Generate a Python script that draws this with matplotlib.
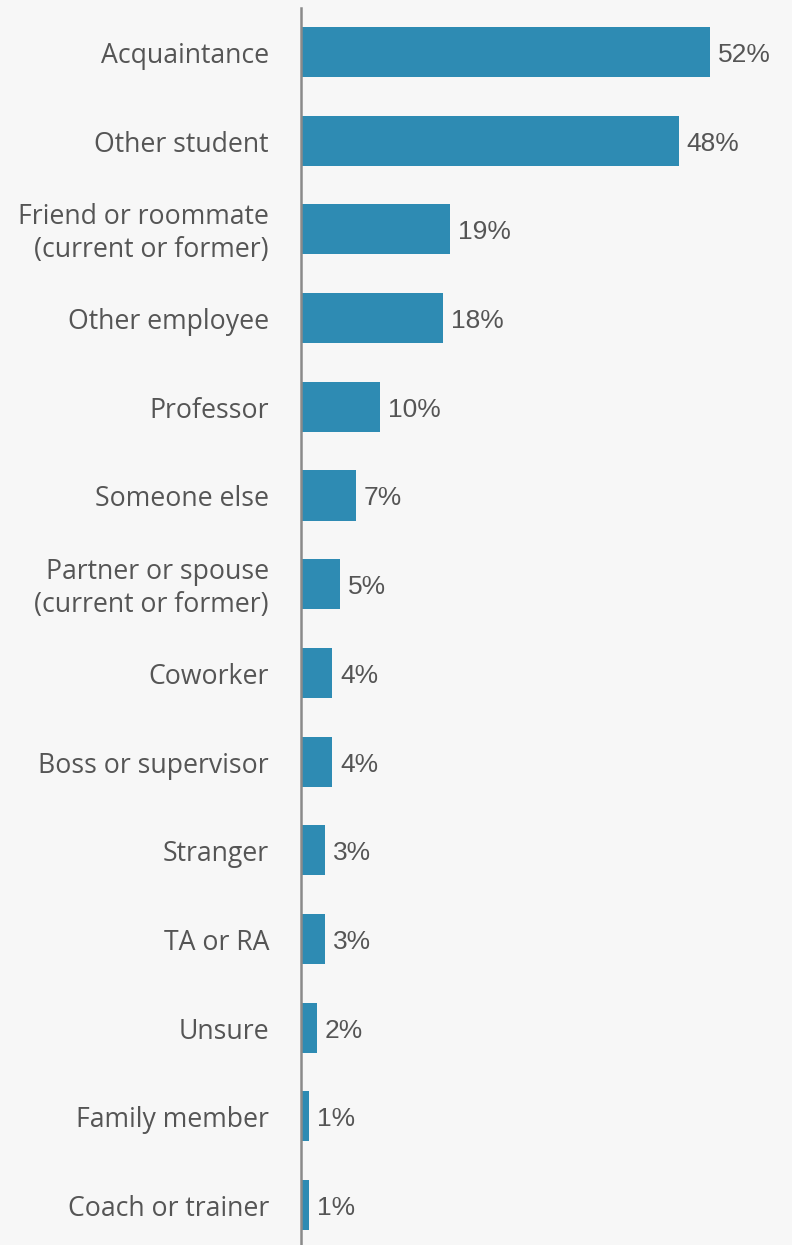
import matplotlib.pyplot as plt
from matplotlib.transforms import offset_copy

categories = ['Acquaintance', 'Other student', 'Friend or roommate\n(current or former)',
              'Other employee', 'Professor', 'Someone else',
              'Partner or spouse\n(current or former)', 'Coworker', 'Boss or supervisor',
              'Stranger', 'TA or RA', 'Unsure', 'Family member', 'Coach or trainer']
values = [52, 48, 19, 18, 10, 7, 5, 4, 4, 3, 3, 2, 1, 1]

bg = '#f7f7f7'
bar_color = '#2e8bb3'
text_color = '#555555'

fig = plt.figure(figsize=(7.92, 12.45), dpi=100, facecolor=bg)
ax = fig.add_axes([301 / 792, 0, 491 / 792, 1237 / 1245])
ax.set_facecolor(bg)

ypos = list(range(len(categories)))
ax.barh(ypos, values, height=0.565, color=bar_color, left=0)

ax.set_xlim(0, 491 / 7.865)
ax.set_ylim(13.45, -0.496)

for s in ['top', 'right', 'bottom']:
    ax.spines[s].set_visible(False)
ax.spines['left'].set_color('#8a8a8a')
ax.spines['left'].set_linewidth(1.8)
ax.set_xticks([])
ax.set_yticks([])

# category names to the left of the axis line
lab_tr = offset_copy(ax.transData, fig=fig, x=-32, y=-4, units='dots')
for y, name in zip(ypos, categories):
    ax.text(0, y, name, transform=lab_tr, ha='right', va='center',
            fontsize=19.2, family='Open Sans', color=text_color,
            linespacing=1.25, clip_on=False)

# value labels just past the bar ends
val_tr = offset_copy(ax.transData, fig=fig, x=8, y=-3, units='dots')
for y, v in zip(ypos, values):
    ax.text(v, y, f'{v}%', transform=val_tr, ha='left', va='center',
            fontsize=19, family='Liberation Sans', color=text_color)

fig.savefig('out.png', dpi=100, facecolor=bg)
